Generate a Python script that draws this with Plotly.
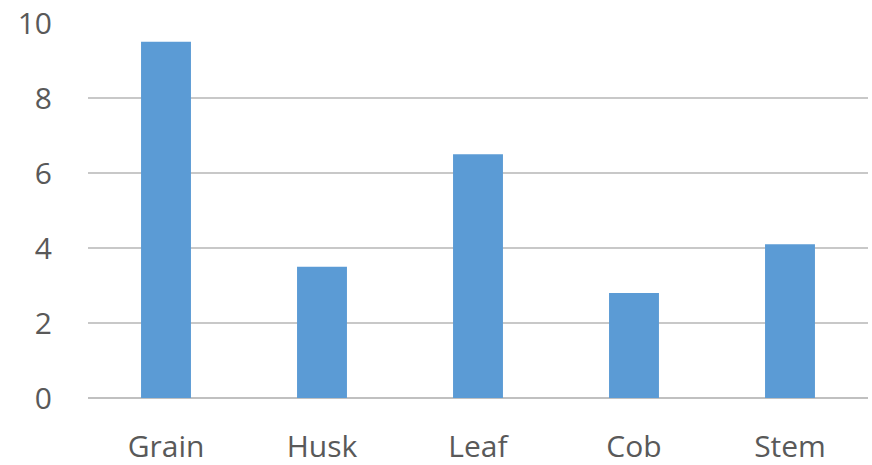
import plotly.graph_objects as go

categories = ["Grain", "Husk", "Leaf", "Cob", "Stem"]
values = [9.5, 3.5, 6.5, 2.8, 4.1]
y_ticks = [0, 2, 4, 6, 8, 10]

fig = go.Figure(go.Bar(x=categories, y=values, marker=dict(color="#5B9BD5", line=dict(width=0))))

fig.update_layout(
    width=872, height=465,
    margin=dict(l=88, r=4, t=23, b=67),
    paper_bgcolor="white", plot_bgcolor="white",
    bargap=0.68,
    showlegend=False,
    font=dict(family="Open Sans", size=30, color="#595959"),
)
fig.update_xaxes(showgrid=False, showline=False, ticks="", ticklabelstandoff=28, automargin=False)
fig.update_yaxes(range=[0, 10], tickvals=y_ticks, showgrid=True, gridcolor="#C8C8C8", gridwidth=2,
                 zeroline=True, zerolinecolor="#C0C0C0", zerolinewidth=2,
                 showline=False, ticks="", ticklabelstandoff=35, automargin=False)

fig.write_html("out.html")
